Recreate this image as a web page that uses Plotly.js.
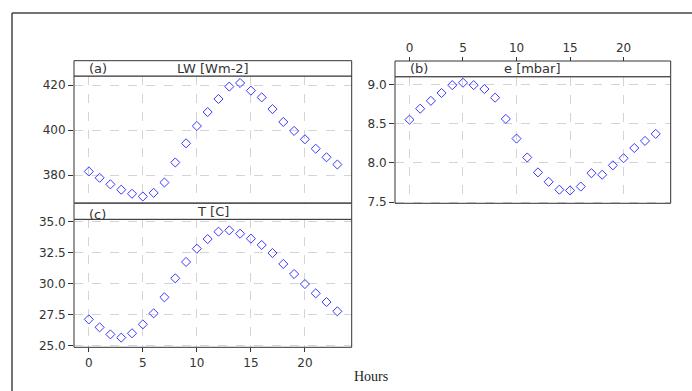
<!DOCTYPE html>
<html>
<head>
<meta charset="utf-8">
<script src="https://cdn.plot.ly/plotly-3.0.1.min.js"></script>
<style>html,body{margin:0;padding:0;background:#fff;}#chart{width:692px;height:391px;}</style>
</head>
<body>
<div id="chart"></div>
<script>
// ---- data ----
const hours = [0,1,2,3,4,5,6,7,8,9,10,11,12,13,14,15,16,17,18,19,20,21,22,23];
const lwValues = [381.6,378.8,375.9,373.5,371.7,370.5,372.1,376.7,385.6,394.1,401.8,408.0,413.8,419.3,420.9,417.5,414.5,409.3,403.6,399.6,395.9,391.7,387.9,384.7];
const eValues = [8.55,8.69,8.79,8.89,8.99,9.02,8.99,8.94,8.83,8.56,8.31,8.07,7.88,7.76,7.66,7.65,7.70,7.87,7.85,7.97,8.06,8.19,8.28,8.37];
const tValues = [27.12,26.48,25.91,25.65,26.0,26.72,27.61,28.9,30.43,31.75,32.82,33.6,34.19,34.3,34.03,33.63,33.12,32.47,31.59,30.78,29.97,29.22,28.52,27.77];
const xTicks = [0,5,10,15,20];
const lwTicks = [380,400,420];
const eTicks = [7.5,8.0,8.5,9.0];
const tTicks = [25.0,27.5,30.0,32.5,35.0];
const panelLetters = ['(a)','(b)','(c)'];
const panelTitles = ['LW [Wm-2]','e [mbar]','T [C]'];
const xTitle = 'Hours';

// ---- layout helpers ----
const W = 692, H = 391;
const fx = p => p / W;
const fy = p => 1 - p / H;
const markerStyle = {symbol:'diamond-open', size:7, color:'#3a3aff', line:{width:1, color:'#3a3aff'}};
const gridStyle = {showgrid:true, gridcolor:'#d4d4d4', griddash:'dash', gridwidth:1, zeroline:false, showline:false};
const tickFont = {family:'DejaVu Sans', size:12, color:'#333'};

const traces = [
  {x:hours, y:lwValues, xaxis:'x', yaxis:'y', mode:'markers', type:'scatter', marker:markerStyle, hoverinfo:'skip'},
  {x:hours, y:eValues, xaxis:'x2', yaxis:'y2', mode:'markers', type:'scatter', marker:markerStyle, hoverinfo:'skip'},
  {x:hours, y:tValues, xaxis:'x3', yaxis:'y3', mode:'markers', type:'scatter', marker:markerStyle, hoverinfo:'skip'}
];

// panel boxes in px: [left, right, stripTop, plotTop, plotBottom]
const A = [74, 351.7, 60.7, 76, 203];
const B = [395, 670.7, 61, 76.7, 203.3];
const C = [74, 351.7, 203.3, 219.3, 347.3];

function frameShapes(P){
  return [
    {type:'rect', xref:'paper', yref:'paper', x0:fx(P[0]), x1:fx(P[1]), y0:fy(P[4]), y1:fy(P[3]), line:{color:'#333', width:1}, fillcolor:'rgba(0,0,0,0)', layer:'above'},
    {type:'rect', xref:'paper', yref:'paper', x0:fx(P[0]), x1:fx(P[1]), y0:fy(P[3]), y1:fy(P[2]), line:{color:'#333', width:1}, fillcolor:'#ffffff', layer:'above'}
  ];
}

const shapes = [].concat(frameShapes(A), frameShapes(B), frameShapes(C), [
  {type:'line', xref:'paper', yref:'paper', x0:fx(12), x1:1, y0:fy(13), y1:fy(13), line:{color:'#444', width:1.5}},
  {type:'line', xref:'paper', yref:'paper', x0:fx(12), x1:fx(12), y0:fy(13), y1:0, line:{color:'#444', width:1.5}}
]);

const stripFont = {family:'DejaVu Sans', size:13, color:'#333'};
function stripAnn(P, letter, title, letterY){
  const yc = (P[2] + P[3]) / 2;
  return [
    {xref:'paper', yref:'paper', x:fx(P[0] + 13), y:fy(letterY !== undefined ? letterY : yc), text:letter, showarrow:false, xanchor:'left', yanchor:'middle', font:stripFont},
    {xref:'paper', yref:'paper', x:fx((P[0] + P[1]) / 2), y:fy(yc), text:title, showarrow:false, xanchor:'center', yanchor:'middle', font:stripFont}
  ];
}
const annotations = [].concat(
  stripAnn(A, panelLetters[0], panelTitles[0]),
  stripAnn(B, panelLetters[1], panelTitles[1]),
  stripAnn(C, panelLetters[2], panelTitles[2], 214.5),
  [{xref:'paper', yref:'paper', x:fx(371), y:fy(376), text:xTitle, showarrow:false, xanchor:'center', yanchor:'middle', font:{family:'Liberation Serif', size:14, color:'#222'}}]
);

const layout = {
  width:W, height:H, margin:{l:0, r:0, t:0, b:0},
  paper_bgcolor:'#fff', plot_bgcolor:'#fff', showlegend:false,
  font:tickFont,
  xaxis: Object.assign({domain:[fx(A[0]), fx(A[1])], range:[-1.37, 24.33], anchor:'y', tickvals:xTicks, showticklabels:false, ticks:''}, gridStyle),
  yaxis: Object.assign({domain:[fy(A[4]), fy(A[3])], range:[367.6, 424], anchor:'x', tickvals:lwTicks, ticks:'outside', ticklen:5, tickcolor:'#333', tickfont:tickFont}, gridStyle),
  xaxis2: Object.assign({domain:[fx(B[0]), fx(B[1])], range:[-1.35, 24.4], anchor:'free', position:fy(B[2]), side:'top', tickvals:xTicks, ticks:'outside', ticklen:4, tickcolor:'#333', tickfont:tickFont}, gridStyle),
  yaxis2: Object.assign({domain:[fy(B[4]), fy(B[3])], range:[7.487, 9.097], anchor:'x2', tickvals:eTicks, tickformat:'.1f', ticks:'outside', ticklen:5, tickcolor:'#333', tickfont:tickFont}, gridStyle),
  xaxis3: Object.assign({domain:[fx(C[0]), fx(C[1])], range:[-1.37, 24.33], anchor:'y3', tickvals:xTicks, ticks:'outside', ticklen:4, tickcolor:'#333', tickfont:tickFont}, gridStyle),
  yaxis3: Object.assign({domain:[fy(C[4]), fy(C[3])], range:[24.87, 35.19], anchor:'x3', tickvals:tTicks, tickformat:'.1f', ticks:'outside', ticklen:5, tickcolor:'#333', tickfont:tickFont}, gridStyle),
  shapes: shapes,
  annotations: annotations
};

Plotly.newPlot('chart', traces, layout, {staticPlot:true, displayModeBar:false});
</script>
</body>
</html>
